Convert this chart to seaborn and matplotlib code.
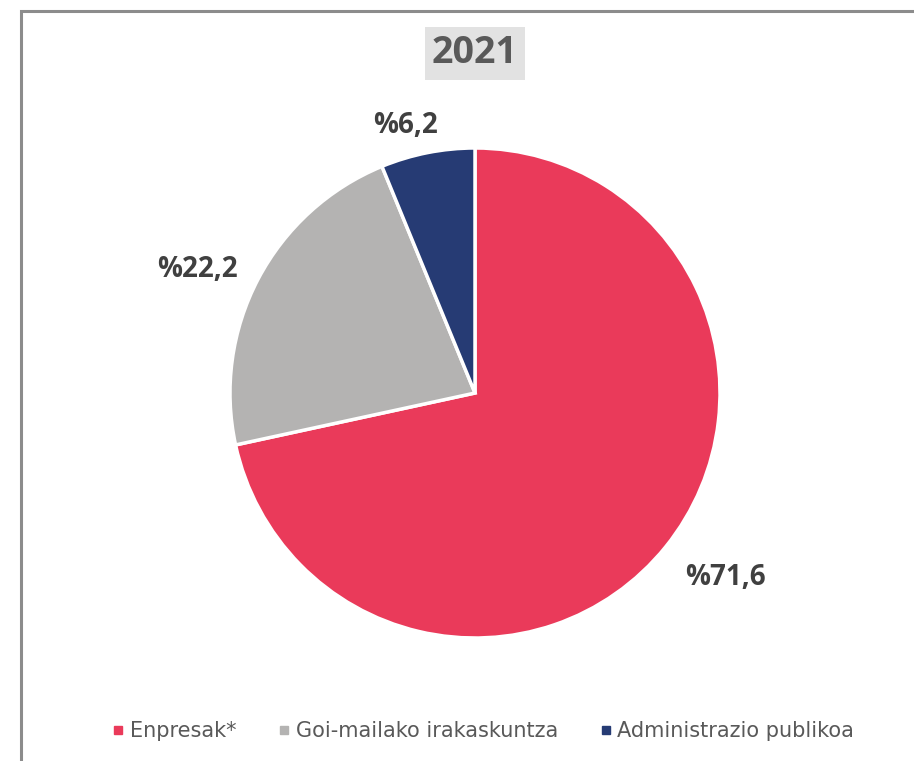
import numpy as np
import seaborn as sns
import matplotlib.pyplot as plt
from matplotlib.patches import Rectangle
from matplotlib.lines import Line2D

# data
year = "2021"
sectors = ["Enpresak*", "Goi-mailako irakaskuntza", "Administrazio publikoa"]
shares = [71.6, 22.2, 6.2]
share_labels = ["%71,6", "%22,2", "%6,2"]

colors = ["#EA3A5A", "#B4B3B2", "#263B74"]
label_radius = [1.27, 1.24, 1.13]
label_turn = [2.5, 3.8, 3.4]  # degrees, nudges labels like the original

sns.set_theme(style="white")
plt.rcParams["font.family"] = ["Open Sans", "DejaVu Sans"]

W, H = 914, 761
fig = plt.figure(figsize=(W / 100, H / 100), dpi=100)

# outer frame (cut off on right and bottom like the original)
fig.patches.append(Rectangle((21 / W, -0.05), 1.1, 1 - 11 / H + 0.05,
                             transform=fig.transFigure, fill=False,
                             edgecolor="#8C8C8C", linewidth=2.2))

cx, cy, r = 475, 393, 245
ax = fig.add_axes([(cx - r) / W, (H - cy - r) / H, 2 * r / W, 2 * r / H])
wedges, _ = ax.pie(shares, colors=colors, startangle=90, counterclock=False,
                   radius=1, wedgeprops=dict(edgecolor="white", linewidth=2.5))
ax.set_xlim(-1, 1)
ax.set_ylim(-1, 1)
ax.set_aspect("auto")
ax.axis("off")

for w, lab, rr, dt in zip(wedges, share_labels, label_radius, label_turn):
    mid = np.deg2rad((w.theta1 + w.theta2) / 2 + dt)
    ax.text(rr * np.cos(mid), rr * np.sin(mid), lab, ha="center", va="center",
            fontsize=20, fontweight="bold", color="#404040", clip_on=False)

fig.text(cx / W, 1 - 53 / H, year, ha="center", va="center", fontsize=27,
         fontweight="bold", color="#595959",
         bbox=dict(boxstyle="square,pad=0.2", facecolor="#E2E2E2", edgecolor="none"))

handles = [Line2D([], [], marker="s", linestyle="none", markersize=6,
                  markerfacecolor=c, markeredgecolor=c) for c in colors]
fig.legend(handles, sectors, loc="center", bbox_to_anchor=(482 / W, 1 - 731 / H),
           ncol=3, frameon=False, handletextpad=0.15, columnspacing=1.9,
           prop={"family": "DejaVu Sans", "size": 15},
           labelcolor="#595959", handlelength=0.8)

fig.savefig("out.png", dpi=100)
